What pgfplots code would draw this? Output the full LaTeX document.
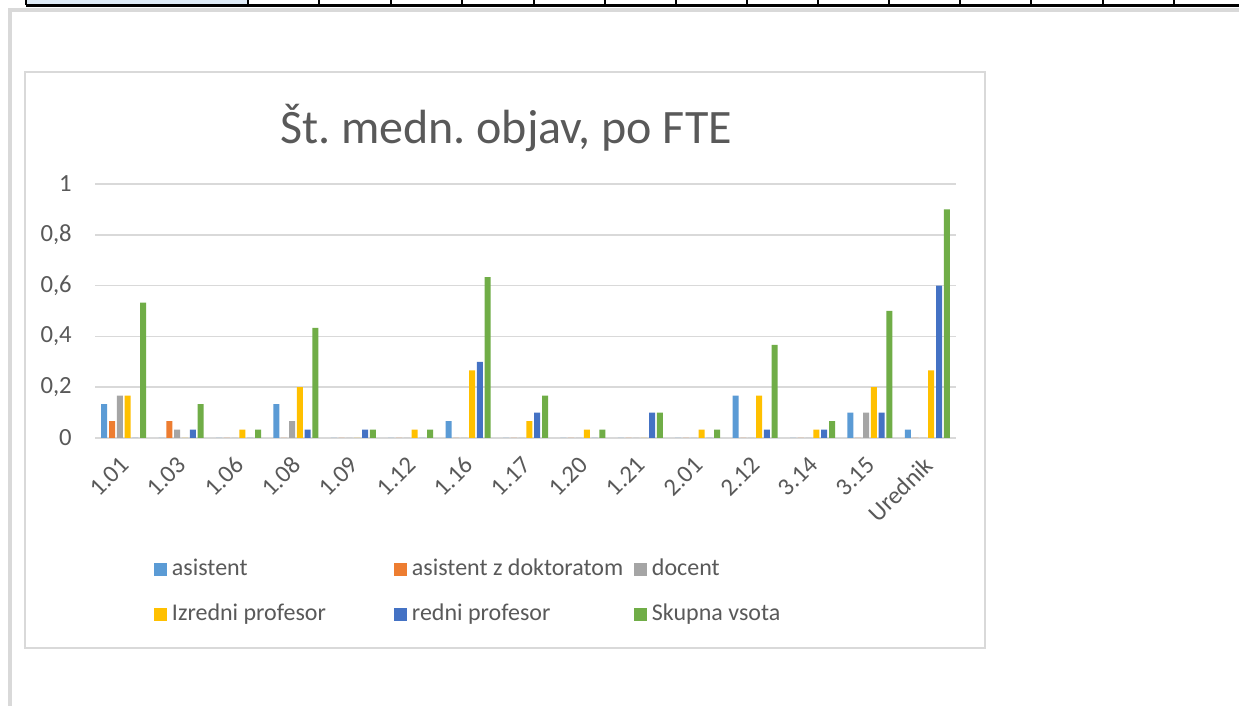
\documentclass[border=0pt]{standalone}
\usepackage{pgfplots}
\pgfplotsset{compat=1.18}
\usepackage{pgfplotstable}
\usepackage{fontspec}
\setmainfont{Carlito}
\frenchspacing
\definecolor{txt}{HTML}{595959}
\definecolor{gridc}{HTML}{D9D9D9}
\definecolor{cA}{HTML}{5B9BD5}
\definecolor{cB}{HTML}{ED7D31}
\definecolor{cC}{HTML}{A5A5A5}
\definecolor{cD}{HTML}{FFC000}
\definecolor{cE}{HTML}{4472C4}
\definecolor{cF}{HTML}{70AD47}
\definecolor{cellblue}{HTML}{DEEAF6}
\newcommand{\legent}[1]{\makebox[166.5pt][l]{#1}}
\pgfplotstableread{
x a b c d e f
0 0.1333 0.0667 0.1667 0.1667 0 0.5333
1 0 0.0667 0.0333 0 0.0333 0.1333
2 0 0 0 0.0333 0 0.0333
3 0.1333 0 0.0667 0.2 0.0333 0.4333
4 0 0 0 0 0.0333 0.0333
5 0 0 0 0.0333 0 0.0333
6 0.0667 0 0 0.2667 0.3 0.6333
7 0 0 0 0.0667 0.1 0.1667
8 0 0 0 0.0333 0 0.0333
9 0 0 0 0 0.1 0.1
10 0 0 0 0.0333 0 0.0333
11 0.1667 0 0 0.1667 0.0333 0.3667
12 0 0 0 0.0333 0.0333 0.0667
13 0.1 0 0.1 0.2 0.1 0.5
14 0.0333 0 0 0.2667 0.6 0.9
}\data
\begin{document}
\begin{tikzpicture}
\path[use as bounding box] (0,0) rectangle (929.25pt,529.5pt);
\fill[white] (0,0) rectangle (929.25pt,529.5pt);
\begin{scope}[x=0.75pt,y=-0.75pt,yshift=529.5pt]
% surrounding document decoration
\fill[cellblue] (26,0) rectangle (248,5);
\foreach \xx in {26,248,319,391,462,534,605,676,747,818,889,960,1031,1103,1174}{\draw[black,line width=0.9pt] (\xx,0) -- (\xx,5);}
\draw[black,line width=1.6pt] (26,5.5) -- (1239,5.5);
\draw[gridc,line width=2.4pt] (10,706) -- (10,10) -- (1239,10);
\draw[gridc,line width=0.9pt] (25,72) rectangle (985,648);
\node[anchor=base,font=\fontsize{36}{42}\selectfont,text=txt,inner sep=0pt] at (506,144) {Št. medn. objav, po FTE};
\end{scope}
\begin{axis}[
  at={(71.25pt,201pt)}, anchor=south west,
  scale only axis, width=645.75pt, height=190.5pt,
  ymin=0, ymax=1, xmin=-0.5, xmax=14.5,
  ybar=1.35pt, bar width=4.5pt,
  axis line style={draw=none},
  major tick length=0pt,
  ymajorgrids, grid style={gridc,line width=1.1pt},
  ytick={0,0.2,0.4,0.6,0.8,1},
  yticklabel style={/pgf/number format/.cd,use comma,fixed,assume math mode=true,/tikz/.cd,font=\fontsize{18.5}{22}\selectfont,text=txt,inner sep=0pt,anchor=east,xshift=-17.25pt},
  xtick={0,...,14},
  xticklabels={1.01,1.03,1.06,1.08,1.09,1.12,1.16,1.17,1.20,1.21,2.01,2.12,3.14,3.15,Urednik},
  xticklabel style={xshift=0.75pt,yshift=-17.25pt,rotate=45,anchor=east,font=\fontsize{18.5}{22}\selectfont,text=txt,inner sep=0pt},
  legend columns=3,
  legend image code/.code={\fill[#1] (0pt,0pt) rectangle (9.75pt,9.75pt); \path (13.5pt,0pt);},
  legend style={draw=none,fill=none,inner sep=0pt,outer sep=0pt,at={(0.0685,-0.4724)},anchor=north west,
    font=\fontsize{18}{21}\selectfont,text=txt,
    cells={anchor=base west},
    column sep=0pt,
    nodes={inner sep=0pt,text height=13.5pt,text depth=4.5pt},
    /tikz/row sep=15.75pt},
]
\addplot[fill=cA,draw=none] table[x=x,y=a]{\data};
\addplot[fill=cB,draw=none] table[x=x,y=b]{\data};
\addplot[fill=cC,draw=none] table[x=x,y=c]{\data};
\addplot[fill=cD,draw=none] table[x=x,y=d]{\data};
\addplot[fill=cE,draw=none] table[x=x,y=e]{\data};
\addplot[fill=cF,draw=none] table[x=x,y=f]{\data};
\legend{\legent{asistent},\legent{asistent z doktoratom},\legent{docent},\legent{Izredni profesor},\legent{redni profesor},\legent{Skupna vsota}}
\end{axis}
\end{tikzpicture}
\end{document}
